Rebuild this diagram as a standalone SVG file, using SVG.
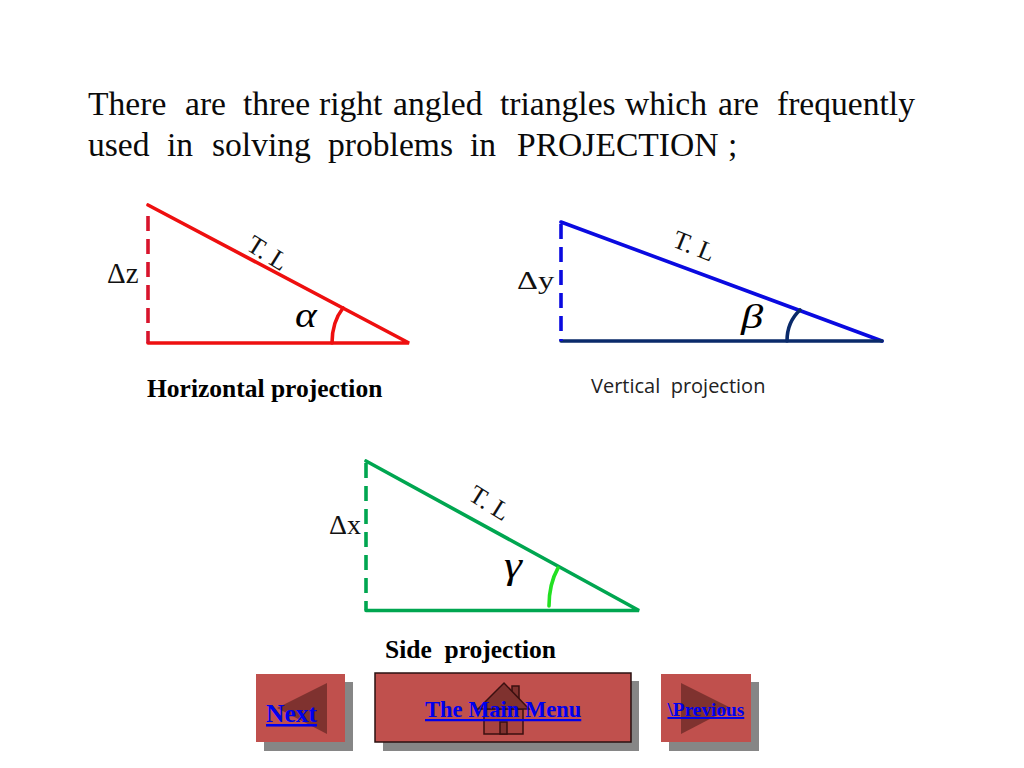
<svg xmlns="http://www.w3.org/2000/svg" width="1024" height="768" viewBox="0 0 1024 768">
<style>
.t{font-family:"Liberation Serif","Times New Roman",serif;fill:#000}
.h{font-size:33.6px;fill:#0a0a0a}
.d{font-size:29px;fill:#111}
.tl{font-size:26px;fill:#111}
.g{font-style:italic}
.b{font-size:25.5px;font-weight:bold}
.s{fill:none;stroke-width:3.6;stroke-linecap:round}
.dash{stroke-dasharray:15 8;stroke-linecap:butt}
.link{font-family:"Liberation Serif",serif;font-weight:bold;fill:#0000ee;text-decoration:underline}
.sh{fill:#868686}
.btn{fill:#c0504d}
.dk{fill:#7f322f}
.hs{stroke:#3a1010;stroke-width:1.5}
</style>
<rect width="1024" height="768" fill="#fff"/>
<g id="heading">
<text class="t h" y="115"><tspan x="88">There</tspan> <tspan x="185">are</tspan> <tspan x="243">three</tspan> <tspan x="319">right</tspan> <tspan x="393">angled</tspan> <tspan x="500">triangles</tspan> <tspan x="625">which</tspan> <tspan x="718">are</tspan> <tspan x="777">frequently</tspan></text>
<text class="t h" y="156"><tspan x="88">used</tspan> <tspan x="167">in</tspan> <tspan x="212">solving</tspan> <tspan x="328">problems</tspan> <tspan x="470">in</tspan> <tspan x="517">PROJECTION</tspan> <tspan x="728">;</tspan></text>
</g>
<g id="connectors">
<path class="s" stroke="#ee0f0f" d="M148 205L409 343H148"/>
<path class="s dash" stroke="#d8142c" d="M148 216V343"/>
<path class="s" stroke="#ee0f0f" d="M343 308Q332 322 332 343"/>
<path class="s" stroke="#0a0ae0" d="M561 222L882 341"/>
<path class="s" stroke="#0a2a6a" d="M561 341H882"/>
<path class="s dash" stroke="#0a0ae0" d="M561 224V341"/>
<path class="s" stroke="#0a2a6a" d="M800 310Q787 322 787 341"/>
<path class="s" stroke="#00a650" d="M366 461L639 610.5H366"/>
<path class="s dash" stroke="#00a650" d="M366 463V610"/>
<path class="s" stroke="#22e022" d="M558 568Q549 584 549 606"/>
</g>
<g id="triangle-horizontal">
<text class="t d" x="107" y="283">Δz</text>
<text class="t tl" transform="translate(245 249) rotate(32)">T. L</text>
<text class="t g" transform="translate(295 327) scale(1.15 1)" font-size="36">α</text>
<text class="t b" x="147" y="397">Horizontal projection</text>
</g>
<g id="triangle-vertical">
<text class="t d" transform="translate(517 289) scale(1.3 1)" style="font-size:25px">Δy</text>
<text class="t tl" transform="translate(671 246) rotate(22)">T. L</text>
<text class="t g" transform="translate(741 328) scale(1.35 1)" font-size="33">β</text>
<text x="591" y="393" font-family="Open Sans,sans-serif" font-size="20" fill="#222" xml:space="preserve">Vertical  projection</text>
</g>
<g id="triangle-side">
<text class="t d" x="329" y="534" style="font-size:28px">Δx</text>
<text class="t tl" transform="translate(467 499) rotate(32)">T. L</text>
<text class="t g" transform="translate(504 578) scale(1.2 1)" font-size="38">γ</text>
<text class="t b" x="385" y="658" xml:space="preserve">Side  projection</text>
</g>
<g id="next">
<rect class="sh" x="264" y="682" width="89" height="69"/>
<rect class="btn" x="256" y="674" width="89" height="68"/>
<path class="dk" d="M327 683V734L277 708Z"/>
<text class="link" x="266" y="722" font-size="25.5">Next</text>
</g>
<g id="main-menu">
<rect class="sh" x="383" y="681" width="256" height="70"/>
<rect class="btn" x="375" y="673" width="256" height="69" stroke="#2a1010" stroke-width="1.5"/>
<path fill="#a8433f" class="hs" d="M484 709H523V734H484Z"/>
<path class="dk hs" d="M500 734V722H507V734ZM512 694V686H519V702Z"/>
<path class="dk hs" d="M478 709L504 683L529 709Z"/>
<text class="link" x="425" y="717" font-size="22.5">The Main Menu</text>
</g>
<g id="previous">
<rect class="sh" x="669" y="682" width="90" height="69"/>
<rect class="btn" x="661" y="674" width="90" height="68"/>
<path class="dk" d="M681 683V734L731 708Z"/>
<text class="link" x="667.5" y="716" font-size="19.3">\Previous</text>
</g>
</svg>
